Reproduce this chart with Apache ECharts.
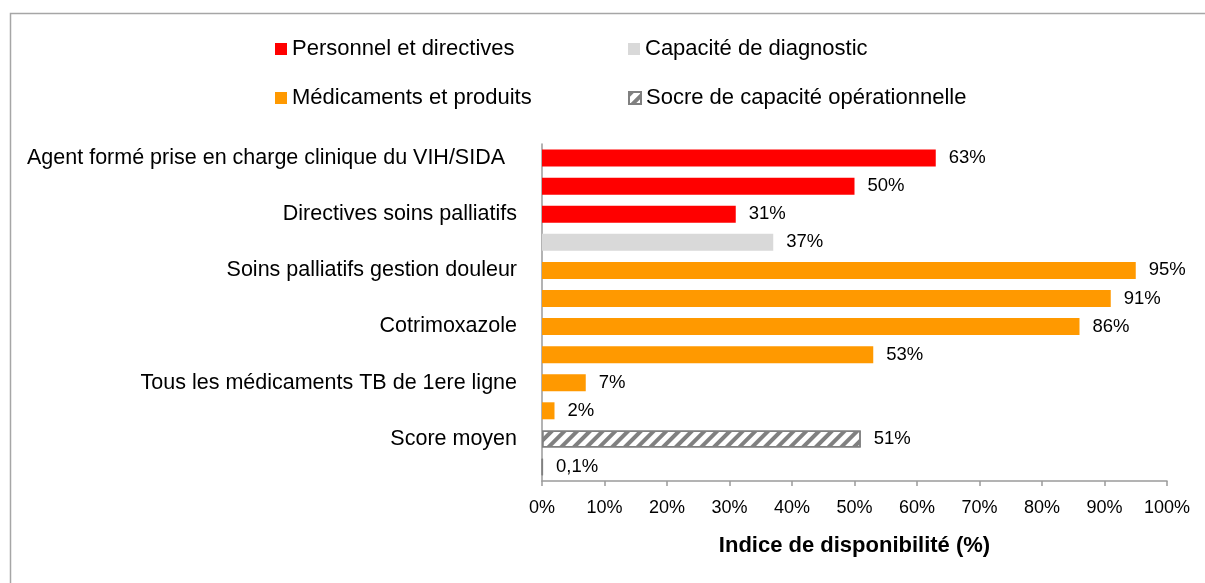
<!DOCTYPE html>
<html>
<head>
<meta charset="utf-8">
<script src="https://cdn.jsdelivr.net/npm/echarts@6/dist/echarts.min.js"></script>
<style>
  html, body { margin: 0; padding: 0; background: #fff; }
  #main { width: 1205px; height: 583px; }
</style>
</head>
<body>
<div id="main"></div>
<script>
// libellés de l'axe vertical (une ligne sur deux est vide)
const categories = [
  'Agent formé prise en charge clinique du VIH/SIDA  ', '',
  'Directives soins palliatifs', '',
  'Soins palliatifs gestion douleur', '',
  'Cotrimoxazole', '',
  'Tous les médicaments TB de 1ere ligne', '',
  'Score moyen', ''
];
// valeurs par groupe (%), '-' = pas de barre sur cette ligne
const personnel   = [63, 50, 31, '-', '-', '-', '-', '-', '-', '-', '-', '-'];
const diagnostic  = ['-', '-', '-', 37, '-', '-', '-', '-', '-', '-', '-', '-'];
const medicaments = ['-', '-', '-', '-', 95, 91, 86, 53, 7, 2, '-', '-'];
const score       = ['-', '-', '-', '-', '-', '-', '-', '-', '-', '-', 51, 0.1];
const xTicks = [0, 10, 20, 30, 40, 50, 60, 70, 80, 90, 100];

const myChart = echarts.init(document.getElementById('main'));

const font = '"Liberation Sans", Arial, sans-serif';
const valueLabel = {
  show: true,
  position: 'right',
  distance: 13,
  color: '#000',
  fontSize: 18.5,
  fontFamily: font,
  formatter: (p) => String(p.value).replace('.', ',') + '%'
};

function legendAt(name, left, top) {
  return {
    data: [name],
    left: left,
    top: top,
    icon: 'rect',
    itemWidth: 12,
    itemHeight: 12,
    itemGap: 0,
    textStyle: { fontSize: 22, fontFamily: font, color: '#000' },
    selectedMode: false
  };
}

const option = {
  animation: false,
  backgroundColor: '#fff',
  graphic: [{
    type: 'rect',
    left: 8, top: 11,
    shape: { width: 1400, height: 800 },
    style: { fill: 'none', stroke: '#a6a6a6', lineWidth: 1.5 },
    silent: true
  }],
  legend: [
    legendAt('Personnel et directives', 270, 33),
    legendAt('Capacité de diagnostic', 623, 33),
    legendAt('Médicaments et produits', 270, 82),
    legendAt('Socre de capacité opérationnelle', 623, 82)
  ],
  grid: { left: 542, right: 38, top: 144, bottom: 102, containLabel: false, outerBoundsMode: 'none' },
  xAxis: {
    type: 'value',
    min: 0,
    max: 100,
    interval: 10,
    name: 'Indice de disponibilité (%)',
    nameLocation: 'middle',
    nameGap: 54,
    nameTextStyle: { fontSize: 22, fontWeight: 'bold', fontFamily: font, color: '#000' },
    axisLine: { show: true, lineStyle: { color: '#9a9a9a', width: 1.5 } },
    axisTick: { show: true, length: 5, lineStyle: { color: '#9a9a9a', width: 1.5 } },
    axisLabel: {
      fontSize: 18, fontFamily: font, color: '#000', margin: 18,
      formatter: (v) => xTicks.includes(v) ? v + '%' : ''
    },
    splitLine: { show: false }
  },
  yAxis: {
    type: 'category',
    data: categories,
    inverse: true,
    axisLine: { show: true, lineStyle: { color: '#9a9a9a', width: 1.5 } },
    axisTick: { show: false },
    axisLabel: { fontSize: 21.5, fontFamily: font, color: '#000', margin: 25, interval: 0 }
  },
  series: [
    {
      name: 'Personnel et directives',
      type: 'bar', stack: 'all', barWidth: 17,
      itemStyle: { color: '#ff0000' },
      label: valueLabel,
      data: personnel
    },
    {
      name: 'Capacité de diagnostic',
      type: 'bar', stack: 'all', barWidth: 17,
      itemStyle: { color: '#d9d9d9' },
      label: valueLabel,
      data: diagnostic
    },
    {
      name: 'Médicaments et produits',
      type: 'bar', stack: 'all', barWidth: 17,
      itemStyle: { color: '#ff9900' },
      label: valueLabel,
      data: medicaments
    },
    {
      name: 'Socre de capacité opérationnelle',
      type: 'bar', stack: 'all', barWidth: 17,
      itemStyle: {
        color: '#ffffff',
        borderColor: '#808080',
        borderWidth: 1.5,
        decal: {
          symbol: 'rect',
          symbolSize: 1,
          color: '#808080',
          dashArrayX: [1, 0],
          dashArrayY: [4, 5],
          rotation: -Math.PI / 4
        }
      },
      label: valueLabel,
      data: score
    }
  ]
};

myChart.setOption(option);
</script>
</body>
</html>
